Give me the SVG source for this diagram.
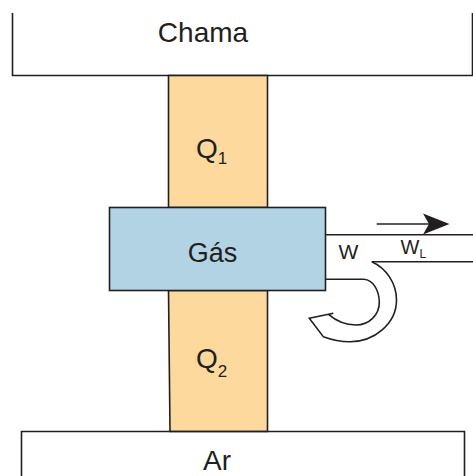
<svg xmlns="http://www.w3.org/2000/svg" width="473" height="476" viewBox="0 0 473 476">
<style>
.ln{fill:none;stroke:#231f20;stroke-width:1.6}
.t{font-family:"Liberation Sans",Arial,sans-serif;fill:#231f20}
.orange{fill:#fdd99d;stroke:#231f20;stroke-width:1.6}
.gas{fill:#b2d3e3;stroke:#231f20;stroke-width:1.6}
</style>
<g id="chama">
<path class="ln" d="M12.5,13 V75.5 H472.5 V13" fill="#fff"/>
<text class="t" x="203" y="42" font-size="28" text-anchor="middle">Chama</text>
</g>
<g id="q1">
<rect class="orange" x="168.5" y="75.5" width="99" height="132"/>
<text class="t" x="196" y="158" font-size="28">Q<tspan font-size="17" dy="6">1</tspan></text>
</g>
<g id="q2">
<path class="orange" d="M168.5,290.5 L267.5,290.5 L267.5,431.5 L170,431.5 Z"/>
<text class="t" x="196" y="367.5" font-size="28">Q<tspan font-size="17" dy="9">2</tspan></text>
</g>
<g id="ar">
<path class="ln" d="M21.5,476 V431.5 H464.5 V476" fill="#fff"/>
<text class="t" x="217" y="470" font-size="28" text-anchor="middle">Ar</text>
</g>
<g id="gas">
<rect class="gas" x="109.5" y="207.5" width="216" height="83"/>
<text class="t" x="212.5" y="261.5" font-size="27" text-anchor="middle">Gás</text>
</g>
<g id="connectors">
<path class="ln" d="M325.7,234.7 H473"/>
<path class="ln" d="M371.7,261.7 H473"/>
<path fill="#fff" stroke="#231f20" stroke-width="1.6" stroke-linejoin="miter" d="M325.7,279.3 L364,279.3 C373,280 379,290 379.3,302 C379.5,315 369,325 356,325 C345,325 335,320 328.5,314.4 L333.3,313.3 L309.3,318.3 L323.3,336.7 C331,339.5 340,341.8 350,341.7 C374,341.5 396.5,324 396.5,300 C396.5,283 386,268 371.7,261.7"/>
<path class="ln" d="M376.7,224 H432"/>
<path fill="#231f20" d="M449.5,224 L423,213.5 L429,224 L423,234.5 Z"/>
<text class="t" x="348.5" y="259" font-size="21" text-anchor="middle">W</text>
<text class="t" x="400.5" y="254" font-size="20">W<tspan font-size="12" dy="4">L</tspan></text>
</g>
</svg>
